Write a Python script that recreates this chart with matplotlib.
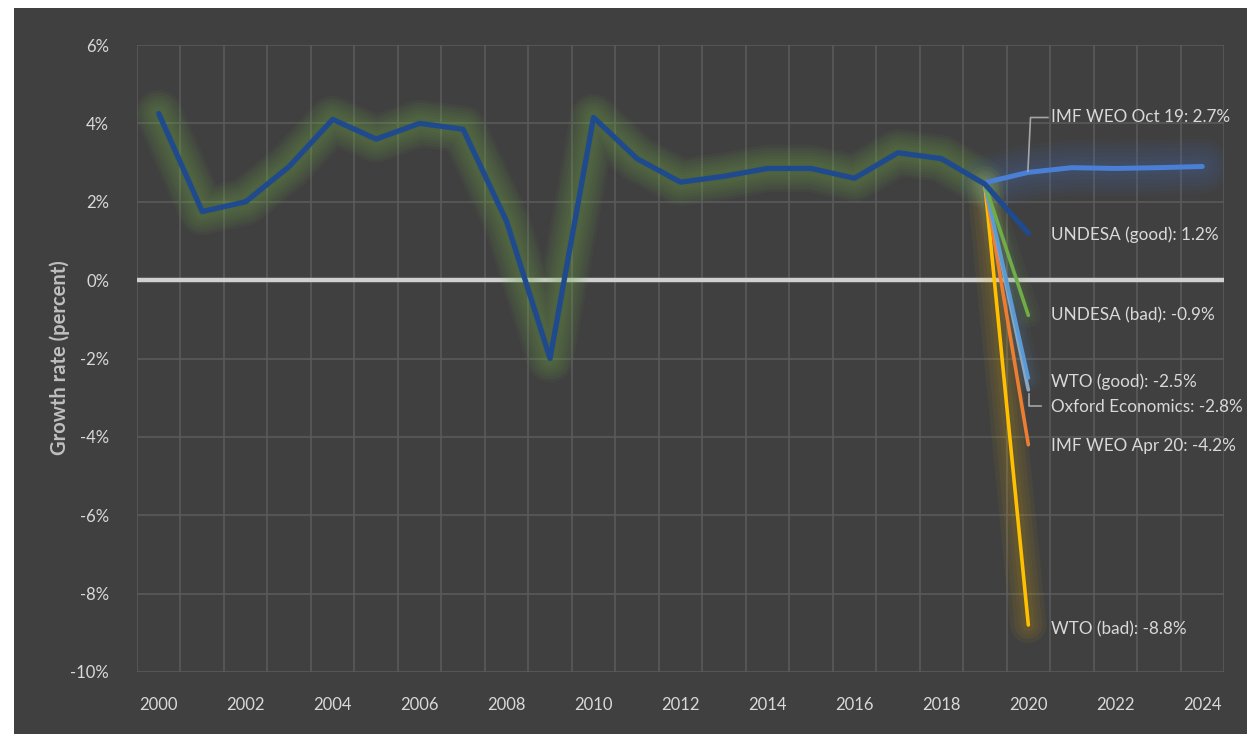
import matplotlib.pyplot as plt
import numpy as np
from matplotlib.patches import Rectangle

plt.rcParams["font.family"] = ["Lato", "DejaVu Sans"]

# world growth, history up to 2019 and UNDESA (good) for 2020
years = list(range(2000, 2021))
growth = [4.25, 1.75, 2.0, 2.9, 4.1, 3.6, 4.0, 3.85, 1.5, -2.0, 4.15,
          3.1, 2.5, 2.65, 2.85, 2.85, 2.6, 3.25, 3.1, 2.45, 1.2]

# IMF WEO Oct 19 forecast path
imf_oct_years = [2019.05, 2020, 2021, 2022, 2023, 2024]
imf_oct_values = [2.5, 2.75, 2.87, 2.85, 2.87, 2.9]

# 2020 point forecasts, drawn from 2019
fc_names = ["UNDESA (bad)", "WTO (good)", "Oxford Economics", "IMF WEO Apr 20", "WTO (bad)"]
fc_values = [-0.9, -2.5, -2.8, -4.2, -8.8]
fc_colors = ["#70ad47", "#5b9bd5", "#8aa6c4", "#ed7d31", "#ffc000"]

labels = ["IMF WEO Oct 19: 2.7%", "UNDESA (good): 1.2%", "UNDESA (bad): -0.9%",
          "WTO (good): -2.5%", "Oxford Economics: -2.8%", "IMF WEO Apr 20: -4.2%",
          "WTO (bad): -8.8%"]
label_y = [4.15, 1.15, -0.9, -2.58, -3.24, -4.23, -8.9]

BG = "#404040"
TXT = "#d9d9d9"


def glow(ax, x, y, color, widths, alpha):
    # soft halo: stacked wide translucent strokes
    for w in widths:
        ax.plot(x, y, color=color, lw=w, alpha=alpha, solid_capstyle="round",
                solid_joinstyle="round", zorder=2)


fig = plt.figure(figsize=(12.47, 7.34), dpi=100, facecolor="white")
fig.patches.append(Rectangle((14 / 1247, 0), 1, 1 - 8 / 734, transform=fig.transFigure,
                             facecolor=BG, edgecolor="none", zorder=-10))
ax = fig.add_axes([137 / 1247, 1 - 672 / 734, (1224 - 137) / 1247, (672 - 45) / 734])
ax.set_facecolor(BG)

ax.set_xlim(1999.5, 2024.5)
ax.set_ylim(-10, 6)
ax.set_xticks(range(2000, 2025, 2))
ax.set_xticks(np.arange(1999.5, 2025, 1), minor=True)
ax.set_yticks(range(-10, 7, 2))
ax.set_yticklabels([f"{v}%" for v in range(-10, 7, 2)])
ax.grid(which="minor", axis="x", color="#5a5a5a", lw=1.2)
ax.grid(which="major", axis="y", color="#5a5a5a", lw=1.2)
ax.tick_params(which="both", length=0)
ax.tick_params(axis="x", colors=TXT, labelsize=12, pad=18)
ax.tick_params(axis="y", colors=TXT, labelsize=12, pad=20)
for s in ax.spines.values():
    s.set_visible(False)
ax.set_axisbelow(True)

ax.axhline(0, color="#d0d0d0", lw=3.2, zorder=1.5)

# glows
glow(ax, years[:-1], growth[:-1], "#76b04e", [34, 30, 26, 22, 18, 14, 10], 0.06)
glow(ax, imf_oct_years, imf_oct_values, "#4472c4", [40, 34, 28, 22, 16, 10], 0.05)
glow(ax, [2019, 2020], [growth[-2], fc_values[-1]], "#ffc000", [26, 20, 14, 9], 0.05)
glow(ax, [2019, 2020], [growth[-2], fc_values[0]], "#70ad47", [18, 12, 7], 0.05)
glow(ax, [2019, 2020], [growth[-2], fc_values[1]], "#5b9bd5", [18, 12, 7], 0.05)

for v, c in zip(fc_values[::-1], fc_colors[::-1]):
    ax.plot([2019, 2020], [growth[-2], v], color=c, lw=2.6, solid_capstyle="round", zorder=3)

ax.plot(imf_oct_years, imf_oct_values, color="#4a7fd6", lw=3.6, solid_capstyle="round", zorder=4)
ax.plot(years, growth, color="#1f4a8e", lw=3.8, solid_capstyle="round",
        solid_joinstyle="round", zorder=5)

# leader lines
ax.plot([2019.99, 2020.05, 2020.45], [2.78, 4.15, 4.15], color="#a6a6a6", lw=1.2, zorder=4)
ax.plot([2020.02, 2020.02, 2020.3], [-2.9, -3.2, -3.2], color="#a6a6a6", lw=1.2, zorder=4)

for t, y in zip(labels, label_y):
    ax.text(2020.53, y, t, color=TXT, fontsize=12.3, va="center", ha="left", zorder=6)

fig.text(60 / 1247, 1 - 358 / 734, "Growth rate (percent)", rotation=90, color="#bfbfbf",
         fontsize=14.5, fontweight="bold", ha="center", va="center")

fig.savefig("out.png", dpi=100, facecolor=fig.get_facecolor())
